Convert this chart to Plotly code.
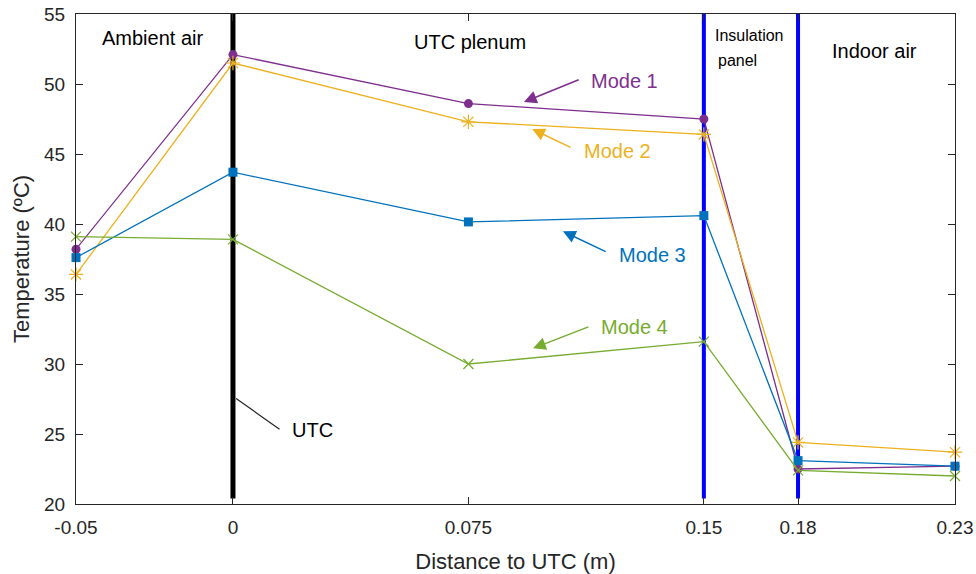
import plotly.graph_objects as go

# Distance through the wall section (m) and node temperatures (°C)
distance = [-0.05, 0.0, 0.075, 0.15, 0.18, 0.23]
mode1 = [38.2, 52.1, 48.6, 47.5, 22.5, 22.7]
mode2 = [36.4, 51.5, 47.3, 46.4, 24.4, 23.7]
mode3 = [37.6, 43.7, 40.15, 40.6, 23.1, 22.7]
mode4 = [39.1, 38.9, 30.0, 31.6, 22.4, 22.0]

tick_vals = [-0.05, 0, 0.075, 0.15, 0.18, 0.23]
tick_text = ["-0.05", "0", "0.075", "0.15", "0.18", "0.23"]
y_ticks = [20, 25, 30, 35, 40, 45, 50, 55]

# Layer boundaries: UTC sheet and both faces of the insulation panel
utc_x = 0.0
panel_x = [0.15, 0.18]
boundary_y = [20.4, 55]

FONT = "Liberation Sans, Arial, sans-serif"
AXIS = "#262626"

fig = go.Figure()

fig.add_trace(go.Scatter(x=[utc_x, utc_x], y=boundary_y, mode="lines",
                         line=dict(color="black", width=5), hoverinfo="skip"))
for px in panel_x:
    fig.add_trace(go.Scatter(x=[px, px], y=boundary_y, mode="lines",
                             line=dict(color="#0000FF", width=4), hoverinfo="skip"))

series = [
    ("Mode 1", mode1, "#7E2F8E", "circle", 9, 0),
    ("Mode 2", mode2, "#EDB120", "asterisk-open", 12, 1.2),
    ("Mode 3", mode3, "#0072BD", "square", 9, 0),
    ("Mode 4", mode4, "#77AC30", "x-thin-open", 10, 1.2),
]
for name, vals, color, sym, size, lw in series:
    fig.add_trace(go.Scatter(
        x=distance, y=vals, name=name, mode="lines+markers", cliponaxis=False,
        line=dict(color=color, width=1.3),
        marker=dict(symbol=sym, size=size, color=color,
                    line=dict(color=color, width=lw)),
    ))

# Labels with pointer arrows: (text, color, text_x, text_y, head_x, head_y, tail_x, tail_y)
callouts = [
    ("Mode 1", "#7E2F8E", 0.1134, 50.2, 0.0927, 48.71, 0.1106, 50.35),
    ("Mode 2", "#EDB120", 0.1112, 45.2, 0.0953, 46.78, 0.1080, 45.42),
    ("Mode 3", "#0072BD", 0.1223, 37.77, 0.1051, 39.48, 0.1192, 37.98),
    ("Mode 4", "#77AC30", 0.1166, 32.62, 0.0956, 31.12, 0.1137, 32.69),
]
annotations = []
for text, color, tx, ty, hx, hy, sx, sy in callouts:
    annotations.append(dict(x=hx, y=hy, ax=sx, ay=sy, xref="x", yref="y",
                            axref="x", ayref="y", text="", showarrow=True,
                            arrowhead=2, arrowsize=1.7, arrowwidth=1.5,
                            arrowcolor=color))
    annotations.append(dict(x=tx, y=ty, xref="x", yref="y", text=text,
                            showarrow=False, xanchor="left", yanchor="middle",
                            font=dict(family=FONT, size=20, color=color)))

# UTC leader line
annotations.append(dict(x=0.001, y=27.54, ax=0.0153, ay=25.26, xref="x", yref="y",
                        axref="x", ayref="y", text="", showarrow=True,
                        arrowhead=0, arrowwidth=1.2, arrowcolor="#262626"))
annotations.append(dict(x=0.0182, y=25.26, xref="x", yref="y", text="UTC",
                        showarrow=False, xanchor="left", yanchor="middle",
                        font=dict(family=FONT, size=20, color="black")))

# Region labels
regions = [
    ("Ambient air", -0.0424, 53.28, "left", 20),
    ("UTC plenum", 0.0755, 53.0, "center", 20),
    ("Insulation", 0.1529, 53.43, "left", 16),
    ("panel", 0.1540, 51.7, "left", 16),
    ("Indoor air", 0.1902, 52.35, "left", 20),
]
for text, x, y, anchor, size in regions:
    annotations.append(dict(x=x, y=y, xref="x", yref="y", text=text,
                            showarrow=False, xanchor=anchor, yanchor="middle",
                            font=dict(family=FONT, size=size, color="black")))

fig.update_layout(
    width=976, height=574,
    margin=dict(l=76, r=21, t=14, b=70),
    paper_bgcolor="white", plot_bgcolor="white",
    showlegend=False,
    font=dict(family=FONT, size=19, color=AXIS),
    annotations=annotations,
    xaxis=dict(range=[-0.05, 0.23], tickvals=tick_vals, ticktext=tick_text,
               automargin=False,
               showgrid=False, zeroline=False, showline=True, linecolor=AXIS,
               linewidth=1, mirror="ticks", ticks="inside", ticklen=7,
               tickcolor=AXIS, ticklabelstandoff=6,
               title=dict(text="Distance to UTC (m)", font=dict(size=22), standoff=18)),
    yaxis=dict(range=[20, 55], tickvals=y_ticks, automargin=False,
               showgrid=False, zeroline=False, showline=True, linecolor=AXIS,
               linewidth=1, mirror="ticks", ticks="inside", ticklen=7,
               tickcolor=AXIS, ticklabelstandoff=6,
               title=dict(text="Temperature (ºC)", font=dict(size=22), standoff=8)),
)

fig.write_html("out.html")
